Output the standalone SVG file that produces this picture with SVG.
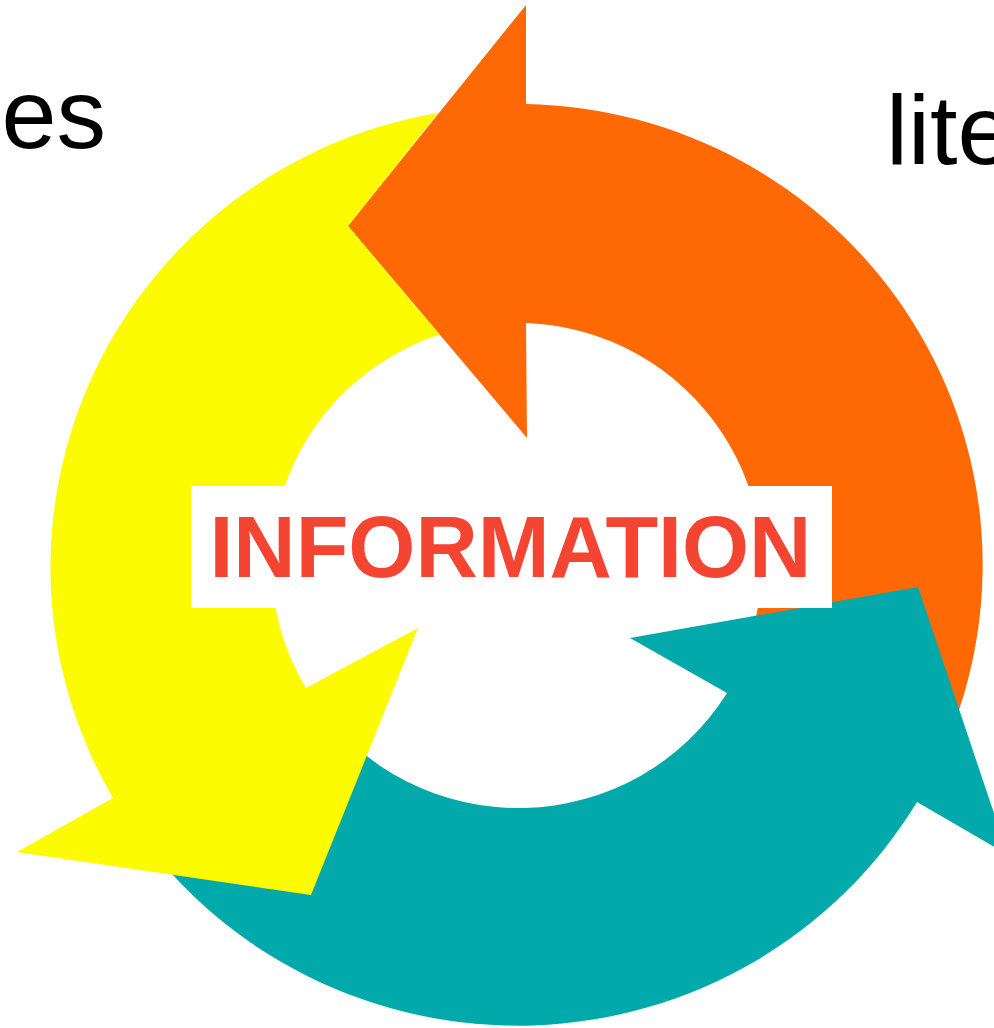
<svg xmlns="http://www.w3.org/2000/svg" width="994" height="1028" viewBox="0 0 994 1028">
<style>
.lbl{font-family:"Liberation Sans",Arial,sans-serif;font-size:99px;fill:#000}
.title{font-family:"Liberation Sans",Arial,sans-serif;font-size:87px;font-weight:bold;fill:#F44532}
</style>
<rect x="0" y="0" width="994" height="1028" fill="#fff"/>
<g id="labels">
<text class="lbl" x="106" y="148" text-anchor="end">ses</text>
<text class="lbl" x="886" y="164">lite</text>
</g>
<g id="connectors">
<g id="arrow-orange">
<path fill="#FF6905" d="M 949.1,736.7 A 466 461 0 0 0 526,104 L 526,5 L 348,226 L 527,438 L 526,323 A 245 242 0 0 1 744.2,654.7 Z"/>
</g>
<g id="arrow-teal">
<path fill="#02A9AA" d="M 135.3,828.4 A 466 461 0 0 0 917,802 L 1008,855 L 918,587 L 630,638 L 727,693 A 245 242 0 0 1 316.3,702.8 Z"/>
</g>
<g id="arrow-yellow">
<path fill="#FDFB00" d="M 438,113 A 466 461 0 0 0 113,798 L 17,852 L 311,895 L 418,628 L 306,688 A 245 242 0 0 1 439.6,334.6 L 348,226 Z"/>
</g>
</g>
<g id="node-information">
<rect x="191" y="486" width="641" height="122" fill="#fff"/>
<text class="title" x="209.4" y="577" textLength="602" lengthAdjust="spacingAndGlyphs">INFORMATION</text>
</g>
</svg>
